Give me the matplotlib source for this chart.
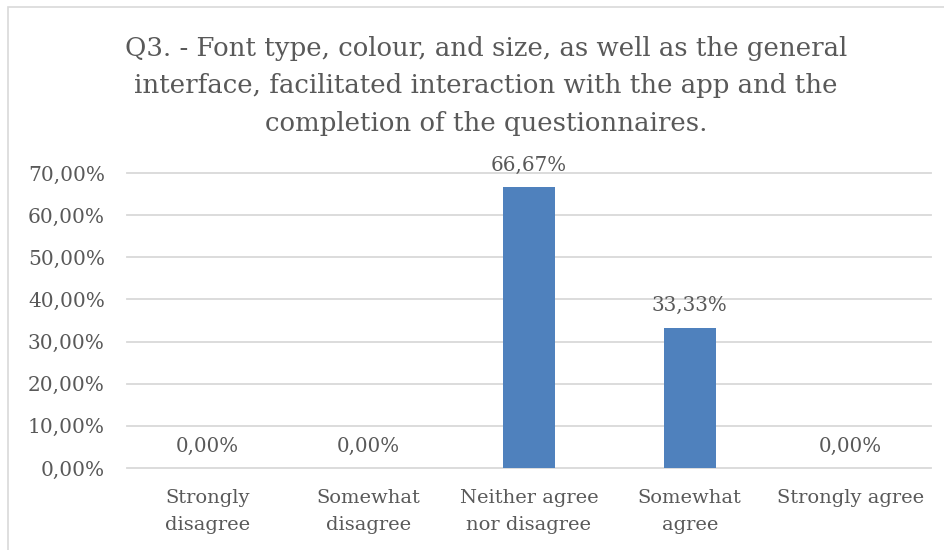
import matplotlib
matplotlib.use('Agg')
import matplotlib.pyplot as plt
from matplotlib.patches import Rectangle

categories = ['Strongly\ndisagree', 'Somewhat\ndisagree', 'Neither agree\nnor disagree',
              'Somewhat\nagree', 'Strongly agree']
values = [0.0, 0.0, 66.67, 33.33, 0.0]
yticks = [0, 10, 20, 30, 40, 50, 60, 70]

title = ('Q3. - Font type, colour, and size, as well as the general\n'
         'interface, facilitated interaction with the app and the\n'
         'completion of the questionnaires.')

text_color = '#595959'
plt.rcParams['font.family'] = ['DejaVu Serif']

fig = plt.figure(figsize=(9.45, 5.5), dpi=100)
# 图表外框
fig.patches.append(Rectangle((8 / 945, -0.1), 1.2, 1 - 7 / 550 + 0.1, transform=fig.transFigure,
                             fill=False, edgecolor='#d9d9d9', linewidth=1.2))

ax = fig.add_axes([127 / 945, 1 - 468 / 550, (931 - 127) / 945, (468 - 173) / 550])
x = list(range(len(categories)))
ax.bar(x, values, width=0.32, color='#4f81bd', zorder=3)
for xi, v in zip(x, values):
    ax.annotate(f'{v:.2f}%'.replace('.', ','), (xi, v), xytext=(0, 9), textcoords='offset points',
                ha='center', va='bottom', fontsize=14.3, color=text_color)

ax.set_xlim(-0.5, len(categories) - 0.5)
ax.set_ylim(0, 70)
ax.set_yticks(yticks)
ax.set_yticklabels([f'{t:.2f}%'.replace('.', ',') for t in yticks])
ax.set_xticks(x)
ax.set_xticklabels(categories, linespacing=1.62)
ax.tick_params(axis='y', length=0, pad=16, labelsize=14.5, labelcolor=text_color)
ax.tick_params(axis='x', length=0, pad=15, labelsize=14, labelcolor=text_color)
ax.grid(axis='y', color='#d9d9d9', linewidth=1.3, zorder=0)
for gl in ax.get_ygridlines():
    gl.set_clip_on(False)
for s in ax.spines.values():
    s.set_visible(False)

fig.text(486 / 945, 1 - 86 / 550, title, ha='center', va='center', fontsize=18.7,
         color=text_color, linespacing=1.62)

fig.savefig('out.png', dpi=100)
